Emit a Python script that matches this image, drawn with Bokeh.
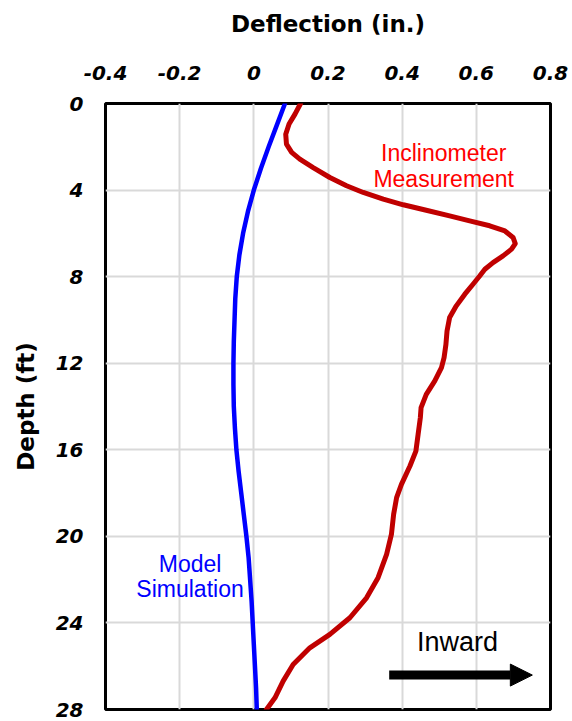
from bokeh.plotting import figure
from bokeh.models import Range1d, FixedTicker, Arrow, NormalHead, Label
from bokeh.embed import file_html
from bokeh.resources import INLINE

# ---- data ----
model_depth = [0, 1, 2, 3, 4, 5, 6, 7, 8, 9, 10, 11, 12, 13, 14, 15, 16, 17, 18, 19, 20,
               21, 22, 23, 24, 25, 26, 27, 28]
model_defl = [0.084, 0.062, 0.040, 0.019, 0.0, -0.016, -0.029, -0.039, -0.046, -0.050,
              -0.052, -0.054, -0.055, -0.055, -0.054, -0.051, -0.047, -0.041, -0.034, -0.027,
              -0.020, -0.014, -0.010, -0.006, -0.003, 0.000, 0.003, 0.006, 0.008]

incl_depth = [0.0, 0.49, 0.95, 1.42, 1.88, 2.26, 2.57, 2.96, 3.42, 3.80, 4.11, 4.42, 4.68,
              4.93, 5.19, 5.42, 5.65, 5.89, 6.19, 6.47, 6.73, 7.04, 7.35, 7.66, 7.97, 8.35,
              8.81, 9.35, 9.89, 10.51, 11.13, 11.74, 12.20, 12.82, 13.44, 14.05, 14.52, 15.29,
              16.06, 16.75, 17.60, 18.21, 18.98, 19.91, 20.83, 21.91, 22.84, 23.76, 24.53,
              25.15, 25.92, 26.69, 27.46, 28.0]
incl_defl = [0.126, 0.111, 0.095, 0.086, 0.088, 0.102, 0.124, 0.160, 0.205, 0.250, 0.295,
             0.349, 0.403, 0.465, 0.528, 0.582, 0.636, 0.677, 0.699, 0.705, 0.695, 0.672,
             0.645, 0.623, 0.609, 0.591, 0.569, 0.546, 0.528, 0.521, 0.518, 0.513, 0.506,
             0.488, 0.465, 0.451, 0.449, 0.443, 0.437, 0.421, 0.398, 0.385, 0.377, 0.371,
             0.358, 0.335, 0.304, 0.259, 0.205, 0.151, 0.106, 0.079, 0.057, 0.034]

x_ticks = [-0.4, -0.2, 0, 0.2, 0.4, 0.6, 0.8]
x_tick_labels = ["-0.4", "-0.2", "0", "0.2", "0.4", "0.6", "0.8"]
y_ticks = [0, 4, 8, 12, 16, 20, 24, 28]

# ---- figure ----
p = figure(frame_width=445, frame_height=606,
           x_range=Range1d(-0.4, 0.8), y_range=Range1d(28, 0),
           x_axis_location="above",
           output_backend="svg", toolbar_location=None,
           min_border_left=105, min_border_top=103,
           min_border_right=22, min_border_bottom=12)
p.background_fill_color = "white"
p.border_fill_color = "white"
p.outline_line_color = "black"
p.outline_line_width = 3

for ax in (p.xaxis[0], p.yaxis[0]):
    ax.axis_line_color = None
    ax.major_tick_line_color = None
    ax.minor_tick_line_color = None
    ax.major_tick_out = 0
    ax.major_tick_in = 0
    ax.minor_tick_out = 0
    ax.major_label_text_font = "DejaVu Sans"
    ax.major_label_text_font_style = "bold italic"
    ax.major_label_text_font_size = "20px"
    ax.major_label_text_color = "black"
    ax.axis_label_text_font = "DejaVu Sans"
    ax.axis_label_text_font_style = "bold"
    ax.axis_label_text_font_size = "23px"
    ax.axis_label_text_color = "black"

p.xaxis.ticker = FixedTicker(ticks=x_ticks)
p.xaxis.major_label_overrides = {t: l for t, l in zip(x_ticks, x_tick_labels)}
p.xaxis.axis_label = "Deflection (in.)"
p.xaxis.major_label_standoff = 24
p.xaxis.axis_label_standoff = 26

p.yaxis.ticker = FixedTicker(ticks=y_ticks)
p.yaxis.axis_label = "Depth (ft)"
p.yaxis.major_label_standoff = 22
p.yaxis.axis_label_standoff = 14

p.xgrid.ticker = FixedTicker(ticks=x_ticks)
p.ygrid.ticker = FixedTicker(ticks=y_ticks)
p.grid.grid_line_color = "#d9d9d9"
p.grid.grid_line_width = 2

# ---- curves ----
p.line(model_defl, model_depth, line_color="#0000ff", line_width=4.5,
       line_join="round", line_cap="round")
p.line(incl_defl, incl_depth, line_color="#c00000", line_width=5,
       line_join="round", line_cap="round")

# ---- annotations ----
body_font = "Liberation Sans"
for txt, yy in (("Inclinometer", 2.27), ("Measurement", 3.47)):
    p.add_layout(Label(x=0.512, y=yy, text=txt, text_align="center", text_baseline="middle",
                       text_font=body_font, text_font_size="23px", text_color="#ff0000"))
for txt, yy in (("Model", 21.27), ("Simulation", 22.42)):
    p.add_layout(Label(x=-0.172, y=yy, text=txt, text_align="center", text_baseline="middle",
                       text_font=body_font, text_font_size="23px", text_color="#0000ff"))
p.add_layout(Label(x=0.549, y=24.9, text="Inward", text_align="center", text_baseline="middle",
                   text_font=body_font, text_font_size="27px", text_color="black"))
p.add_layout(Arrow(end=NormalHead(size=22, fill_color="black", line_color="black"),
                   x_start=0.365, y_start=26.41, x_end=0.751, y_end=26.41,
                   line_width=9, line_color="black"))

open("out.html", "w").write(file_html(p, INLINE))
